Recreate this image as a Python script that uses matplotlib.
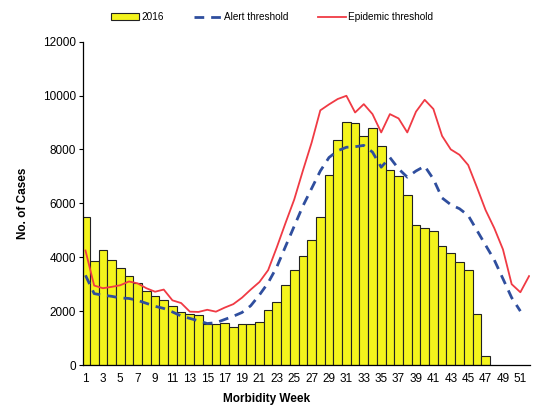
import matplotlib
matplotlib.use('Agg')
import matplotlib.pyplot as plt
import numpy as np

plt.rcParams['font.family'] = ['Liberation Sans', 'DejaVu Sans']

# morbidity weeks and weekly counts
weeks = np.arange(1, 53)
cases_2016 = [5500, 3850, 4250, 3900, 3600, 3300, 3050, 2750, 2550, 2400,
              2200, 1950, 1900, 1850, 1520, 1520, 1570, 1420, 1520, 1520,
              1580, 2030, 2340, 2960, 3515, 4030, 4640, 5510, 7050, 8360,
              9000, 8970, 8510, 8790, 8140, 7240, 7000, 6320, 5180, 5100,
              4970, 4400, 4150, 3820, 3515, 1910, 330, np.nan, np.nan, np.nan,
              np.nan, np.nan]
alert = [3330, 2650, 2590, 2550, 2490, 2470, 2400, 2290, 2180, 2100,
         1970, 1820, 1730, 1640, 1540, 1570, 1690, 1810, 1950, 2200,
         2600, 3050, 3640, 4400, 5150, 5900, 6550, 7200, 7700, 7950,
         8080, 8100, 8150, 7900, 7340, 7700, 7280, 6970, 7200, 7380,
         6900, 6200, 5950, 5800, 5550, 5000, 4450, 3900, 3200, 2500,
         2000, np.nan]
epidemic = [4250, 2950, 2850, 2900, 2960, 3100, 3030, 2850, 2720, 2800,
            2400, 2300, 1980, 1970, 2050, 1980, 2130, 2260, 2500, 2800,
            3080, 3520, 4370, 5270, 6140, 7215, 8250, 9450, 9670, 9870,
            9990, 9370, 9680, 9310, 8630, 9310, 9150, 8630, 9400, 9840,
            9500, 8500, 8000, 7800, 7420, 6600, 5750, 5080, 4290, 3000,
            2700, 3300]
xticks = list(range(1, 52, 2))

fig = plt.figure(figsize=(5.38, 4.12), dpi=100)
ax = fig.add_axes([0.154, 0.114, 0.831, 0.785])

b = ax.bar(weeks, cases_2016, width=1.0, color='#F4F41C', edgecolor='#222222',
           linewidth=0.8, label='2016', zorder=2)
l1, = ax.plot(weeks, alert, color='#2F4E9E', linestyle=(0, (3.5, 2.5)),
              linewidth=2, label='Alert threshold', zorder=3)
l2, = ax.plot(weeks, epidemic, color='#F03A44', linewidth=1.3,
              label='Epidemic threshold', zorder=3)

ax.set_xlim(0.7, 52.1)
ax.set_ylim(0, 12000)
ax.set_yticks(range(0, 12001, 2000))
ax.set_xticks(xticks)
ax.tick_params(axis='x', length=0, labelsize=8.5, pad=6)
ax.tick_params(axis='y', length=3, labelsize=8.5, pad=2)
for s in ['top', 'right']:
    ax.spines[s].set_visible(False)
ax.spines['left'].set_linewidth(0.9)
ax.spines['bottom'].set_linewidth(0.9)

ax.set_ylabel('No. of Cases', fontsize=8.5, fontweight='bold', labelpad=10)
ax.set_xlabel('Morbidity Week', fontsize=8.5, fontweight='bold')
ax.xaxis.set_label_coords(0.41, -0.085)

fig.legend(handles=[b, l1, l2], loc='center', bbox_to_anchor=(0.506, 0.958),
           ncol=3, frameon=False, fontsize=7.2, handlelength=2.8,
           handletextpad=0.2, columnspacing=3.0)

plt.savefig('out.png', dpi=100)
